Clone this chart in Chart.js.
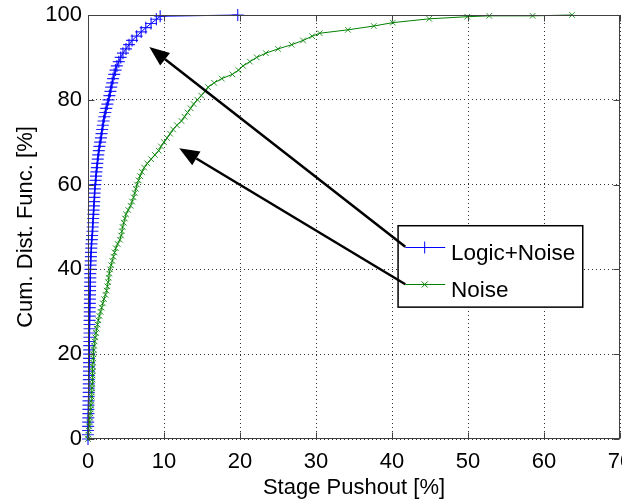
<!DOCTYPE html>
<html lang="en">
<head>
    <meta charset="UTF-8">
    <title>Stage Pushout CDF</title>
    <script src="https://cdn.jsdelivr.net/npm/chart.js"></script>
    <style>
        * { margin: 0; padding: 0; box-sizing: border-box; }
        body { background: #fff; overflow: hidden; }
        .wrap { position: relative; width: 636px; height: 504px; }
    </style>
</head>
<body>
    <div class="wrap">
        <canvas id="cdf"></canvas>
    </div>

    <script>
        // Axis ticks
        const pushoutTicks = [0, 10, 20, 30, 40, 50, 60, 70];
        const cdfTicks = [0, 20, 40, 60, 80, 100];

        // Logic+Noise (blue, +)
        const logicNoiseX = [
            0, 0, 0.01, 0.02, 0.03, 0.04, 0.05, 0.05, 0.06, 0.07, 0.08,
            0.09, 0.1, 0.1, 0.11, 0.12, 0.13, 0.13, 0.14, 0.15, 0.16,
            0.16, 0.17, 0.18, 0.18, 0.19, 0.2, 0.2, 0.21, 0.22, 0.23,
            0.23, 0.24, 0.25, 0.26, 0.27, 0.28, 0.29, 0.3, 0.3, 0.32,
            0.34, 0.36, 0.38, 0.4, 0.43, 0.46, 0.5, 0.54, 0.58, 0.62,
            0.65, 0.68, 0.71, 0.74, 0.78, 0.81, 0.84, 0.87, 0.9, 0.95,
            1.0, 1.05, 1.1, 1.16, 1.22, 1.28, 1.35, 1.42, 1.5, 1.6,
            1.7, 1.78, 1.86, 1.95, 2.05, 2.15, 2.28, 2.4, 2.55, 2.7,
            2.82, 2.95, 3.05, 3.18, 3.3, 3.45, 3.62, 3.8, 4.05, 4.3,
            4.6, 5.0, 5.4, 5.8, 6.4, 7.0, 7.6, 8.3, 9.0,
            9.5, 19.7
        ];
        const logicNoiseY = [
            0, 1, 2, 3, 4, 5, 6, 7, 8, 9, 10,
            11, 12, 13, 14, 15, 16, 17, 18, 19, 20,
            21, 22, 23, 24, 25, 26, 27, 28, 29, 30,
            31, 32, 33, 34, 35, 36, 37, 38, 39, 40,
            41, 42, 43, 44, 45, 46, 47, 48, 49, 50,
            51, 52, 53, 54, 55, 56, 57, 58, 59, 60,
            61, 62, 63, 64, 65, 66, 67, 68, 69, 70,
            71, 72, 73, 74, 75, 76, 77, 78, 79, 80,
            81, 82, 83, 84, 85, 86, 87, 88, 89, 90,
            91, 92, 93, 94, 95, 96, 97, 98, 99,
            99.7, 100
        ];

        // Noise (green, x)
        const noiseX = [
            0, 0.05, 0.1, 0.15, 0.2, 0.26, 0.3, 0.35, 0.38, 0.42, 0.47,
            0.5, 0.52, 0.55, 0.57, 0.6, 0.62, 0.64, 0.66, 0.68, 0.7,
            0.75, 0.8, 0.88, 0.96, 1.05, 1.15, 1.25, 1.36, 1.5, 1.65,
            1.8, 1.95, 2.1, 2.3, 2.45, 2.55, 2.65, 2.72, 2.8, 2.9,
            3.05, 3.2, 3.35, 3.5, 3.65, 3.9, 4.2, 4.35, 4.45, 4.55,
            4.7, 4.85, 5.0, 5.3, 5.6, 5.8, 6.0, 6.15, 6.3, 6.45,
            6.65, 6.85, 7.1, 7.4, 7.8, 8.3, 8.8, 9.3, 9.6, 10.0,
            10.4, 10.8, 11.2, 11.7, 12.3, 12.7, 13.1, 13.5, 13.9, 14.4,
            14.9, 15.4, 15.8, 16.6, 17.6, 19.0, 19.8, 20.4, 21.3, 22.2,
            23.4, 25.0, 26.8, 28.3, 29.5,
            30.5, 34.2, 37.6, 40.1, 44.9, 49.9,
            52.8, 58.5, 63.7
        ];
        const noiseY = [
            0, 1, 2, 3, 4, 5, 6, 7, 8, 9, 10,
            11, 12, 13, 14, 15, 16, 17, 18, 19, 20,
            21, 22, 23, 24, 25, 26, 27, 28, 29, 30,
            31, 32, 33, 34, 35, 36, 37, 38, 39, 40,
            41, 42, 43, 44, 45, 46, 47, 48, 49, 50,
            51, 52, 53, 54, 55, 56, 57, 58, 59, 60,
            61, 62, 63, 64, 65, 66, 67, 68, 69, 70,
            71, 72, 73, 74, 75, 76, 77, 78, 79, 80,
            81, 82, 83, 84, 85, 86, 87, 88, 89, 90,
            91, 92, 93, 94, 95,
            95.7, 96.5, 97.4, 98.2, 99.1, 99.6,
            99.8, 99.8, 100
        ];

        // Legend labels and arrow lines (data coords: [fromX, fromY, toX, toY])
        const seriesNames = ['Logic+Noise', 'Noise'];
        const arrowLines = [
            [41.75, 45.35, 8.07, 92.45],
            [41.75, 36.5, 12.0, 68.6]
        ];

        const BLUE = '#0000ff';
        const GREEN = '#008000';
        const FONT = "'Liberation Sans', Arial, Helvetica, sans-serif";

        Chart.defaults.font.family = FONT;
        Chart.defaults.font.size = 22;
        Chart.defaults.color = '#000';

        const toPoints = (xs, ys) => xs.map((v, i) => ({ x: v, y: ys[i] }));

        function drawArrow(ctx, x0, y0, x1, y1) {
            const ang = Math.atan2(y1 - y0, x1 - x0);
            const len = 20, half = 8;
            const bx = x1 - len * Math.cos(ang);
            const by = y1 - len * Math.sin(ang);
            ctx.beginPath();
            ctx.moveTo(x0, y0);
            ctx.lineTo(bx, by);
            ctx.stroke();
            ctx.beginPath();
            ctx.moveTo(x1, y1);
            ctx.lineTo(bx + half * Math.sin(ang), by - half * Math.cos(ang));
            ctx.lineTo(bx - half * Math.sin(ang), by + half * Math.cos(ang));
            ctx.closePath();
            ctx.fill();
        }

        // frame, inward ticks, legend box and arrows (matlab look)
        const overlay = {
            id: 'overlay',
            afterDraw(chart) {
                const { ctx, chartArea: a, scales: { x, y } } = chart;
                const L = Math.round(a.left) + 0.5, R = Math.round(a.right) - 0.5;
                const T = Math.round(a.top) + 0.5, B = Math.round(a.bottom) - 0.5;
                ctx.save();

                ctx.strokeStyle = '#404040';
                ctx.lineWidth = 1;
                ctx.strokeRect(L, T, R - L, B - T);
                ctx.beginPath();
                pushoutTicks.forEach(v => {
                    const px = Math.round(x.getPixelForValue(v)) + 0.5;
                    ctx.moveTo(px, B); ctx.lineTo(px, B - 6);
                    ctx.moveTo(px, T); ctx.lineTo(px, T + 6);
                });
                cdfTicks.forEach(v => {
                    const py = Math.round(y.getPixelForValue(v)) + 0.5;
                    ctx.moveTo(L, py); ctx.lineTo(L + 6, py);
                    ctx.moveTo(R, py); ctx.lineTo(R - 6, py);
                });
                ctx.stroke();

                // legend box
                const bl = x.getPixelForValue(40.8), br = x.getPixelForValue(65.1);
                const bt = y.getPixelForValue(50.3), bb = y.getPixelForValue(31.1);
                ctx.fillStyle = '#fff';
                ctx.fillRect(bl, bt, br - bl, bb - bt);
                ctx.strokeStyle = '#000';
                ctx.lineWidth = 1.5;
                ctx.strokeRect(bl, bt, br - bl, bb - bt);

                const rows = [45.35, 36.5];
                const cols = [BLUE, GREEN];
                const lx0 = x.getPixelForValue(41.75), lx1 = x.getPixelForValue(47.0);
                const mx = x.getPixelForValue(44.3), tx = x.getPixelForValue(47.75);
                rows.forEach((r, i) => {
                    const py = Math.round(y.getPixelForValue(r)) + 0.5;
                    ctx.strokeStyle = cols[i];
                    ctx.lineWidth = 1;
                    ctx.beginPath();
                    ctx.moveTo(lx0, py); ctx.lineTo(lx1, py);
                    if (i === 0) {
                        ctx.moveTo(mx, py - 6); ctx.lineTo(mx, py + 6);
                    } else {
                        ctx.moveTo(mx - 3, py - 3); ctx.lineTo(mx + 3, py + 3);
                        ctx.moveTo(mx - 3, py + 3); ctx.lineTo(mx + 3, py - 3);
                    }
                    ctx.stroke();
                    ctx.fillStyle = '#000';
                    ctx.font = '22.5px ' + FONT;
                    ctx.textBaseline = 'alphabetic';
                    ctx.textAlign = 'left';
                    ctx.fillText(seriesNames[i], tx, py + 12.5);
                });

                // arrows
                ctx.strokeStyle = '#000';
                ctx.fillStyle = '#000';
                ctx.lineWidth = 2.5;
                arrowLines.forEach(([fx, fy, tx2, ty]) => {
                    drawArrow(ctx,
                        x.getPixelForValue(fx), y.getPixelForValue(fy),
                        x.getPixelForValue(tx2), y.getPixelForValue(ty));
                });

                // original figure was cropped just right of the axes
                ctx.fillStyle = '#fff';
                ctx.fillRect(622, 0, 20, chart.height);
                ctx.restore();
            }
        };

        new Chart(document.getElementById('cdf'), {
            type: 'scatter',
            data: {
                datasets: [
                    {
                        label: seriesNames[0],
                        data: toPoints(logicNoiseX, logicNoiseY),
                        showLine: true,
                        borderColor: BLUE,
                        backgroundColor: BLUE,
                        borderWidth: 1,
                        pointStyle: 'cross',
                        pointRadius: 6,
                        pointBorderWidth: 1.2,
                        pointBorderColor: 'rgba(0,0,255,0.85)',
                        tension: 0,
                        clip: false,
                        order: 1
                    },
                    {
                        label: seriesNames[1],
                        data: toPoints(noiseX, noiseY),
                        showLine: true,
                        borderColor: GREEN,
                        backgroundColor: GREEN,
                        borderWidth: 1,
                        pointStyle: 'crossRot',
                        pointRadius: 4,
                        pointBorderWidth: 1,
                        pointBorderColor: 'rgba(0,128,0,0.8)',
                        tension: 0,
                        clip: false,
                        order: 0
                    }
                ]
            },
            options: {
                responsive: true,
                maintainAspectRatio: false,
                animation: false,
                layout: { padding: { top: 15, right: 16, bottom: 0, left: 0 } },
                plugins: {
                    legend: { display: false },
                    tooltip: { enabled: false }
                },
                scales: {
                    x: {
                        type: 'linear',
                        min: 0,
                        max: 70,
                        afterBuildTicks: s => { s.ticks = pushoutTicks.map(v => ({ value: v })); },
                        afterFit: s => { s.height = 65; },
                        ticks: { padding: 1, maxRotation: 0, autoSkip: false, font: { size: 22, lineHeight: 2 } },
                        grid: { color: '#333', drawTicks: false, lineWidth: 1 },
                        border: { display: false, dash: [1, 3] },
                        title: {
                            display: true,
                            text: 'Stage Pushout [%]',
                            padding: { top: 0, bottom: 3 }
                        }
                    },
                    y: {
                        type: 'linear',
                        min: 0,
                        max: 100,
                        afterBuildTicks: s => { s.ticks = cdfTicks.map(v => ({ value: v })); },
                        afterFit: s => { s.width = 88; },
                        ticks: { padding: 6, autoSkip: false, font: { size: 22, lineHeight: 0.8 } },
                        grid: { color: '#333', drawTicks: false, lineWidth: 1 },
                        border: { display: false, dash: [1, 3] },
                        title: {
                            display: true,
                            text: 'Cum. Dist. Func. [%]',
                            padding: { top: 13, bottom: 0 }
                        }
                    }
                }
            },
            plugins: [overlay]
        });
    </script>
</body>
</html>
